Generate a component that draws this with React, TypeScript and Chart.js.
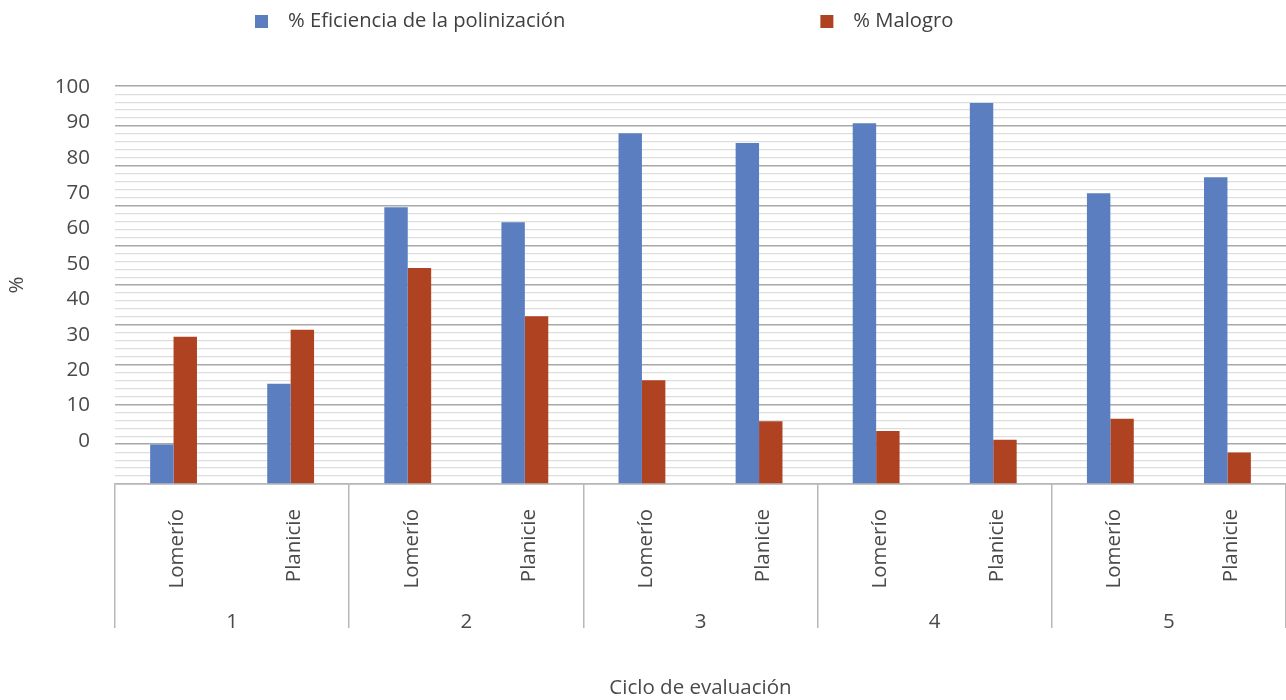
import React, { useEffect, useRef } from 'react';
import { Chart, registerables } from 'chart.js';

Chart.register(...registerables);

// ---- data ----
const subCategories = ['Lomerío', 'Planicie', 'Lomerío', 'Planicie', 'Lomerío', 'Planicie', 'Lomerío', 'Planicie', 'Lomerío', 'Planicie'];
const groupLabels = ['1', '2', '3', '4', '5'];
const eficiencia = [9.9, 25.2, 69.6, 65.8, 88.2, 85.7, 90.7, 95.8, 73.1, 77.1];
const malogro = [37.0, 38.8, 54.3, 42.2, 26.1, 15.8, 13.3, 11.1, 16.4, 7.9];
const yTickLabels = [0, 10, 20, 30, 40, 50, 60, 70, 80, 90, 100];
const seriesNames = ['% Eficiencia de la polinización', '% Malogro'];
const seriesColors = ['#5B7EC1', '#AF4321'];
const yTitle = '%';
const xTitle = 'Ciclo de evaluación';

const TEXT = '#4a4a4a';
const FONT_FAMILY = "'Open Sans', 'Noto Sans', sans-serif";

export default function App() {
  const ref = useRef<HTMLCanvasElement>(null);

  useEffect(() => {
    document.body.style.margin = '0';
    const canvas = ref.current;
    if (!canvas) return;

    const F = 20.2;
    const P = 11;
    const W = 288 - F / 2 - P;
    const S = 13;
    const makeSwatch = (color: string) => {
      const c = document.createElement('canvas');
      c.width = Math.round(W);
      c.height = S;
      const g = c.getContext('2d')!;
      g.fillStyle = color;
      g.fillRect(W + F / 2 - 20 - S, 0, S, S);
      return c;
    };
    const swatches = seriesColors.map(makeSwatch);
    const font = { family: FONT_FAMILY, size: 20.5 };

    const chart = new Chart(canvas, {
      type: 'bar',
      data: {
        labels: subCategories,
        datasets: [
          {
            label: seriesNames[0],
            data: eficiencia,
            backgroundColor: seriesColors[0],
            xAxisID: 'x',
            yAxisID: 'y',
            categoryPercentage: 0.4,
            barPercentage: 1,
            borderWidth: 0,
          },
          {
            label: seriesNames[1],
            data: malogro,
            backgroundColor: seriesColors[1],
            xAxisID: 'x',
            yAxisID: 'y',
            categoryPercentage: 0.4,
            barPercentage: 1,
            borderWidth: 0,
          },
        ],
      },
      options: {
        responsive: false,
        animation: false,
        layout: { padding: 0 },
        plugins: {
          tooltip: { enabled: false },
          title: {
            display: true,
            text: '',
            weight: 500,
            padding: 0,
            font: { size: 45, lineHeight: 1 },
          },
          legend: {
            display: true,
            position: 'top',
            align: 'start',
            labels: {
              font: { family: FONT_FAMILY, size: F },
              color: '#404040',
              padding: P,
              usePointStyle: true,
              pointStyleWidth: W,
              generateLabels: (ch: any) => {
                const items = (Chart as any).defaults.plugins.legend.labels.generateLabels(ch);
                items.forEach((it: any, i: number) => {
                  it.pointStyle = swatches[i];
                });
                return items;
              },
            },
          },
        },
        scales: {
          x: {
            type: 'category',
            position: 'bottom',
            offset: true,
            grid: {
              display: true,
              offset: true,
              drawOnChartArea: false,
              drawTicks: true,
              tickLength: 144,
              lineWidth: 1.5,
              color: (c: any) =>
                c.index === undefined || c.index % 2 === 0 ? '#b8b8b8' : 'rgba(0,0,0,0)',
            },
            border: { display: true, color: '#b8b8b8', width: 1.5 },
            ticks: {
              autoSkip: false,
              minRotation: 90,
              maxRotation: 90,
              padding: -119,
              labelOffset: 4,
              font,
              color: TEXT,
            },
            afterFit: (s: any) => {
              s.height = 103;
            },
          },
          x2: {
            type: 'category',
            labels: groupLabels,
            position: 'bottom',
            offset: true,
            grid: { display: false, drawTicks: false },
            border: { display: false },
            ticks: { autoSkip: false, maxRotation: 0, padding: 23, font, color: TEXT },
            title: {
              display: true,
              text: xTitle,
              font,
              color: TEXT,
              padding: { top: 0, bottom: 0 },
            },
            afterFit: (s: any) => {
              s.height = 113;
            },
          },
          y: {
            type: 'linear',
            position: 'left',
            min: 0,
            max: 100,
            ticks: { display: false, stepSize: 2 },
            grid: {
              drawTicks: false,
              color: (c: any) => (c.tick && c.tick.value % 10 === 0 ? '#a8a8a8' : '#dddddd'),
              lineWidth: (c: any) => (c.tick && c.tick.value % 10 === 0 ? 1.5 : 1.2),
            },
            border: { display: false },
            afterFit: (s: any) => {
              s.width = 0;
            },
          },
          yLab: {
            type: 'linear',
            position: 'left',
            min: -12.15,
            max: 100.2,
            afterBuildTicks: (s: any) => {
              s.ticks = yTickLabels.map((v) => ({ value: v }));
            },
            ticks: {
              font,
              color: TEXT,
              padding: 25,
              callback: (v: any) => String(v),
            },
            grid: { display: false, drawTicks: false },
            border: { display: false },
            title: {
              display: true,
              text: yTitle,
              font,
              color: TEXT,
              padding: { top: 5, bottom: 0 },
            },
            afterFit: (s: any) => {
              s.width = 115;
            },
          },
        },
      } as any,
    });

    return () => chart.destroy();
  }, []);

  return <canvas ref={ref} width={1286} height={700} style={{ display: 'block' }} />;
}
